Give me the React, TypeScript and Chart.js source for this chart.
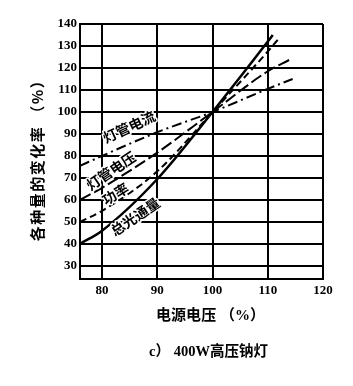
import React, { useEffect, useRef } from "react";
import { Chart, registerables } from "chart.js";

Chart.register(...registerables);

const xTickValues = [80, 90, 100, 110, 120];
const yTickValues = [30, 40, 50, 60, 70, 80, 90, 100, 110, 120, 130, 140];

const currentX = [76, 80, 90, 100, 110, 114.5];
const currentY = [75.5, 80, 90.8, 100, 110.5, 115];
const voltageX = [76, 80, 90, 100, 110, 114];
const voltageY = [60, 65.5, 81.5, 100, 118.5, 123.8];
const powerX = [76, 80, 90, 100, 110, 112.2];
const powerY = [50, 55, 73, 100, 127.5, 134];
const lumensX = [76, 80, 90, 100, 110, 110.9];
const lumensY = [40, 46, 69.5, 100, 132, 135];

const seriesNames = ["灯管电流", "灯管电压", "功率", "总光通量"];
// label anchor in data units and angle (deg)
const labelX = [84.9, 81.6, 82.4, 86.0];
const labelY = [93.2, 73.2, 62.7, 52.3];
const labelAngle = [-25, -34, -32, -34];

const yTitle = "各种量的变化率 （%）";
const xTitle = "电源电压 （%）";
const caption = "c） 400W高压钠灯";

const CJK = "'Noto Sans CJK SC', sans-serif";
const SERIF = "'Liberation Serif', 'DejaVu Serif', serif";
const MIXED = "'Liberation Serif', 'Noto Sans CJK SC', serif";

const zip = (xs: number[], ys: number[]) => xs.map((x, i) => ({ x, y: ys[i] }));

export default function App() {
  const ref = useRef<HTMLCanvasElement | null>(null);
  useEffect(() => {
    document.body.style.margin = "0";
    const canvas = ref.current!;
    const labelPlugin = {
      id: "curveLabels",
      afterDatasetsDraw(chart: any) {
        const ctx = chart.ctx;
        const xs = chart.scales.x;
        const ys = chart.scales.y;
        const ca = chart.chartArea;
        ctx.save();
        ctx.fillStyle = "#000";
        ctx.textAlign = "center";
        ctx.textBaseline = "middle";
        ctx.font = `bold 14px ${CJK}`;
        ctx.strokeStyle = "#fff";
        ctx.lineWidth = 3;
        ctx.lineJoin = "round";
        seriesNames.forEach((name, i) => {
          const px = xs.getPixelForValue(labelX[i]);
          const py = ys.getPixelForValue(labelY[i]);
          ctx.save();
          ctx.translate(px, py);
          ctx.rotate((labelAngle[i] * Math.PI) / 180);
          ctx.strokeText(name, 0, 0);
          ctx.fillText(name, 0, 0);
          ctx.restore();
        });
        const cx = (ca.left + ca.right) / 2;
        const cy = (ca.top + ca.bottom) / 2;
        // y axis title
        ctx.save();
        ctx.font = `bold 15px ${CJK}`;
        (ctx as any).letterSpacing = "1.5px";
        ctx.translate(ca.left - 43, cy + 5);
        ctx.rotate(-Math.PI / 2);
        ctx.fillText(yTitle, 0, 0);
        ctx.restore();
        // x axis title
        ctx.font = `bold 15px ${MIXED}`;
        ctx.fillText(xTitle, cx + 9, ca.bottom + 37);
        // caption
        ctx.font = `bold 14.5px ${MIXED}`;
        ctx.fillText(caption, cx + 7, ca.bottom + 73);
        ctx.restore();
      },
    };
    const mk = (label: string, xs: number[], ys: number[], dash: number[], w: number) => ({
      label,
      data: zip(xs, ys),
      borderColor: "#000",
      backgroundColor: "#000",
      borderWidth: w,
      borderDash: dash,
      pointRadius: 0,
      fill: false,
      cubicInterpolationMode: "monotone" as const,
    });
    const chart = new Chart(canvas, {
      type: "line",
      data: {
        datasets: [
          mk(seriesNames[0], currentX, currentY, [10, 4, 2, 4], 2),
          mk(seriesNames[1], voltageX, voltageY, [12, 4], 2),
          mk(seriesNames[2], powerX, powerY, [7, 4], 2),
          mk(seriesNames[3], lumensX, lumensY, [], 2.5),
        ],
      },
      options: {
        animation: false,
        responsive: false,
        maintainAspectRatio: false,
        layout: { padding: { left: 0, right: 30, top: 24, bottom: 56 } },
        plugins: {
          legend: { display: false },
          tooltip: { enabled: false },
          title: { display: false },
        },
        scales: {
          x: {
            type: "linear",
            min: 76,
            max: 120,
            afterBuildTicks: (s: any) => {
              s.ticks = xTickValues.map((v) => ({ value: v }));
            },
            afterFit: (s: any) => {
              s.height = 51;
            },
            ticks: {
              color: "#000",
              font: { family: SERIF, size: 13, weight: "bold" },
              padding: 4,
              maxRotation: 0,
            },
            grid: { color: "#000", lineWidth: 2, drawTicks: false },
            border: { display: true, color: "#000", width: 2 },
          },
          y: {
            type: "linear",
            min: 24,
            max: 140,
            afterBuildTicks: (s: any) => {
              s.ticks = yTickValues.map((v) => ({ value: v }));
            },
            afterFit: (s: any) => {
              s.width = 80;
            },
            ticks: {
              color: "#000",
              font: { family: SERIF, size: 13, weight: "bold" },
              padding: 3,
            },
            grid: { color: "#000", lineWidth: 2, drawTicks: false },
            border: { display: true, color: "#000", width: 2 },
          },
        },
      },
      plugins: [labelPlugin],
    });
    return () => chart.destroy();
  }, []);
  return (
    <div style={{ width: 353, height: 386, background: "#fff" }}>
      <canvas ref={ref} width={353} height={386} style={{ display: "block" }} />
    </div>
  );
}
